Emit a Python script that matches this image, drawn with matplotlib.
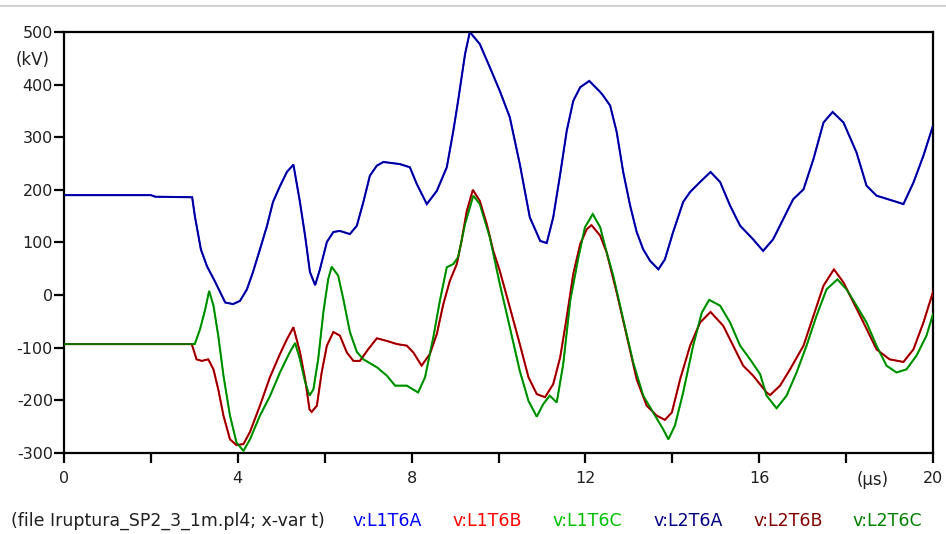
import matplotlib
matplotlib.use("Agg")
import matplotlib.pyplot as plt
from matplotlib.lines import Line2D

# Phase A voltage (kV) vs time (us)
t_a = [0, 2.0, 2.1, 2.95, 3.01, 3.15, 3.29, 3.48, 3.71, 3.89, 4.05, 4.21, 4.35, 4.51,
       4.67, 4.81, 4.97, 5.13, 5.28, 5.43, 5.55, 5.66, 5.78, 5.89, 6.05, 6.20, 6.35,
       6.58, 6.74, 6.89, 7.04, 7.20, 7.35, 7.73, 7.96, 8.12, 8.35, 8.58, 8.81, 8.96,
       9.07, 9.23, 9.34, 9.57, 9.80, 10.03, 10.26, 10.49, 10.72, 10.96, 11.11, 11.26,
       11.42, 11.57, 11.72, 11.88, 12.09, 12.34, 12.41, 12.57, 12.72, 12.87, 13.03,
       13.18, 13.33, 13.49, 13.68, 13.83, 14.02, 14.25, 14.41, 14.64, 14.88, 15.10,
       15.33, 15.56, 15.86, 16.09, 16.32, 16.55, 16.78, 17.02, 17.25, 17.48, 17.69,
       17.94, 18.24, 18.47, 18.70, 19.09, 19.32, 19.55, 19.78, 20.0]
v_a = [190, 190, 187, 186, 151, 87, 55, 25, -14, -17, -11, 11, 44, 87,
       131, 177, 207, 234, 248, 177, 112, 44, 19, 49, 101, 120, 122,
       116, 132, 177, 227, 246, 253, 249, 243, 211, 173, 198, 243, 312,
       369, 458, 500, 477, 433, 388, 338, 249, 148, 103, 99, 148,
       230, 312, 369, 395, 407, 386, 379, 360, 310, 234, 170,
       120, 87, 65, 49, 68, 120, 177, 196, 215, 234, 215,
       170, 132, 106, 84, 106, 144, 182, 201, 259, 328, 348,
       328, 271, 208, 189, 179, 173, 214, 265, 322]

# Phase B voltage (kV) vs time (us)
t_b = [0, 2.94, 3.05, 3.17, 3.32, 3.44, 3.55, 3.67, 3.82, 3.97, 4.13, 4.28, 4.51,
       4.74, 4.97, 5.13, 5.28, 5.43, 5.55, 5.65, 5.70, 5.82, 5.93, 6.05, 6.20, 6.35,
       6.51, 6.66, 6.81, 7.00, 7.20, 7.43, 7.66, 7.89, 8.04, 8.23, 8.42, 8.58, 8.73,
       8.88, 9.04, 9.15, 9.27, 9.41, 9.57, 9.73, 9.88, 10.03, 10.26, 10.49, 10.69,
       10.88, 11.07, 11.26, 11.42, 11.57, 11.72, 11.88, 12.03, 12.14, 12.34, 12.49,
       12.72, 12.95, 13.18, 13.41, 13.64, 13.83, 13.99, 14.18, 14.41, 14.64, 14.88,
       15.17, 15.40, 15.63, 15.86, 16.17, 16.25, 16.48, 16.71, 17.02, 17.25, 17.48,
       17.72, 17.94, 18.17, 18.40, 18.70, 19.00, 19.32, 19.55, 19.78, 20.0]
v_b = [-93, -93, -122, -125, -122, -141, -179, -229, -274, -285, -283, -260, -210,
       -156, -112, -84, -61, -108, -160, -217, -222, -210, -147, -96, -70, -77,
       -109, -125, -125, -103, -82, -87, -93, -96, -109, -134, -112, -74, -17,
       27, 59, 103, 160, 200, 179, 135, 84, 46, -23, -93, -156,
       -188, -194, -169, -118, -42, 40, 97, 125, 133, 113, 81,
       5, -77, -160, -210, -229, -237, -223, -160, -96, -52, -32,
       -58, -96, -134, -153, -185, -190, -172, -141, -96, -39, 18,
       49, 24, -14, -52, -103, -122, -127, -103, -52, 6]

# Phase C voltage (kV) vs time (us)
t_c = [0, 3.01, 3.13, 3.25, 3.34, 3.44, 3.55, 3.67, 3.82, 3.97, 4.13, 4.28, 4.51,
       4.74, 4.97, 5.20, 5.32, 5.43, 5.55, 5.65, 5.74, 5.85, 5.97, 6.08, 6.16, 6.31,
       6.43, 6.58, 6.74, 6.89, 7.20, 7.43, 7.62, 7.89, 8.15, 8.31, 8.50, 8.65, 8.81,
       8.96, 9.07, 9.23, 9.42, 9.57, 9.80, 10.03, 10.26, 10.49, 10.69, 10.88, 11.03,
       11.18, 11.34, 11.49, 11.65, 11.84, 11.99, 12.17, 12.34, 12.49, 12.64, 12.87,
       13.10, 13.33, 13.56, 13.79, 13.91, 14.06, 14.25, 14.48, 14.68, 14.85, 15.10,
       15.33, 15.56, 15.79, 16.02, 16.17, 16.40, 16.63, 16.86, 17.09, 17.32, 17.55,
       17.80, 18.01, 18.24, 18.47, 18.70, 18.93, 19.16, 19.39, 19.62, 19.85, 20.0]
v_c = [-93, -93, -65, -27, 8, -20, -77, -153, -229, -280, -296, -274, -229,
       -192, -147, -108, -91, -122, -165, -191, -179, -122, -32, 30, 54, 37,
       -8, -70, -108, -122, -137, -153, -172, -172, -185, -156, -80, -11, 53,
       59, 72, 135, 189, 173, 110, 21, -61, -144, -201, -231, -207,
       -191, -204, -131, -11, 72, 129, 154, 129, 81, 37, -46,
       -128, -191, -223, -255, -274, -248, -185, -96, -33, -9, -20,
       -52, -96, -122, -150, -191, -215, -191, -147, -96, -39, 11,
       30, 11, -20, -52, -96, -134, -147, -141, -115, -77, -36]

x_ticks = [0, 4, 8, 12, 16, 20]
x_minor = [2, 6, 10, 14, 18]
y_ticks = [-300, -200, -100, 0, 100, 200, 300, 400, 500]

# (label, colour, time, values) -- L2 traces coincide with L1 and are drawn on top
traces = [
    ("v:L1T6A", "#0000ff", t_a, v_a),
    ("v:L1T6B", "#ff0000", t_b, v_b),
    ("v:L1T6C", "#00c000", t_c, v_c),
    ("v:L2T6A", "#000080", t_a, v_a),
    ("v:L2T6B", "#800000", t_b, v_b),
    ("v:L2T6C", "#008000", t_c, v_c),
]

W, H = 946, 534
fig = plt.figure(figsize=(W / 100, H / 100), dpi=100)
fig.patch.set_facecolor("white")
ax = fig.add_axes([64 / W, 1 - 453 / H, (933 - 64) / W, (453 - 32) / H])

for i, (lab, col, t, v) in enumerate(traces):
    lw = 1.5 if i < 3 else 1.0
    ax.plot(t, v, color=col, lw=lw, solid_joinstyle="miter", zorder=2 + i)

ax.set_xlim(0, 20)
ax.set_ylim(-300, 500)
ax.set_xticks(x_ticks)
ax.set_xticks(x_minor, minor=True)
ax.set_yticks(y_ticks)
ax.set_yticklabels([str(v) for v in y_ticks])
ax.set_xticklabels([str(v) for v in x_ticks])

txt_col = "#202020"
ax.tick_params(axis="both", which="both", direction="out", length=7, width=1.6,
               colors="black", labelcolor=txt_col, labelsize=11.5)
ax.tick_params(axis="x", which="both", pad=6)
ax.tick_params(axis="y", pad=1)
for s in ax.spines.values():
    s.set_linewidth(1.6)
    s.set_color("black")

# unit labels
fig.text(33 / W, 1 - 60 / H, "(kV)", ha="center", va="center", fontsize=12, color=txt_col)
fig.text(873 / W, 1 - 480 / H, "(µs)", ha="center", va="center", fontsize=12, color=txt_col)

# footer with file info and trace names
fy = 1 - 521 / H
fig.text(11 / W, fy, "(file Iruptura_SP2_3_1m.pl4; x-var t)", ha="left", va="center",
         fontsize=12.5, color=txt_col)
leg_x = [352, 452, 552, 653, 753, 852]
for (lab, col, _, _), x in zip(traces, leg_x):
    fig.text(x / W, fy, lab, ha="left", va="center", fontsize=12.5, color=col)

# thin grey frame line at the top
fig.add_artist(Line2D([0, 1], [1 - 6 / H, 1 - 6 / H], transform=fig.transFigure,
                      color="#c8c8c8", lw=1.2))

fig.savefig("out.png", dpi=100)
